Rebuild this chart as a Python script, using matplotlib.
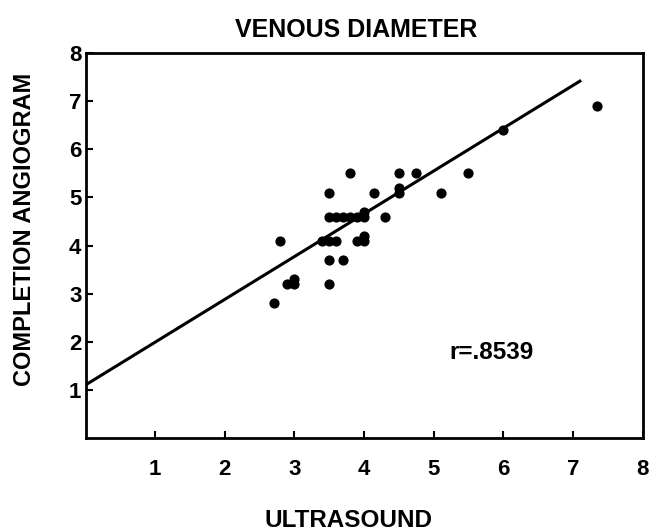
import matplotlib
matplotlib.use("Agg")
import matplotlib.pyplot as plt
import numpy as np

plt.rcParams['font.family'] = ['Liberation Sans', 'DejaVu Sans']

ultrasound = [3.8, 4.5, 4.75, 3.5, 4.15, 4.5, 4.5, 5.1,
              3.5, 3.6, 3.7, 3.8, 3.9, 4.0, 4.0, 4.3,
              3.4, 3.5, 3.6, 3.9, 4.0, 4.0, 2.8,
              3.5, 3.7, 2.9, 3.0, 3.0, 3.5, 2.7,
              5.5, 6.0, 7.35]
angiogram = [5.5, 5.5, 5.5, 5.1, 5.1, 5.1, 5.2, 5.1,
             4.6, 4.6, 4.6, 4.6, 4.6, 4.6, 4.7, 4.6,
             4.1, 4.1, 4.1, 4.1, 4.1, 4.2, 4.1,
             3.7, 3.7, 3.2, 3.2, 3.3, 3.2, 2.8,
             5.5, 6.4, 6.9]
fit_intercept = 1.1
fit_slope = 0.89
fit_x = [0.0, 7.1]
r_label = "r=.8539"
xticks = [1, 2, 3, 4, 5, 6, 7, 8]
yticks = [1, 2, 3, 4, 5, 6, 7, 8]

fig = plt.figure(figsize=(6.53, 5.32), dpi=100)
ax = fig.add_axes([0.131, 0.177, 0.853, 0.723])
ax.scatter(ultrasound, angiogram, s=40, color='black', zorder=3)
fx = np.array(fit_x)
ax.plot(fx, fit_intercept + fit_slope * fx, color='black', lw=2.2)
ax.set_xlim(0, 8)
ax.set_ylim(0, 8)
ax.set_xticks(xticks)
ax.set_yticks(yticks)
ax.tick_params(direction='in', length=5, width=1.5, labelsize=16)
ax.tick_params(axis='x', pad=15)
ax.tick_params(axis='y', pad=3)
for lab in ax.get_xticklabels() + ax.get_yticklabels():
    lab.set_fontweight('bold')
for s in ax.spines.values():
    s.set_linewidth(2)
ax.text(5.22, 1.78, r_label, fontsize=17.5, fontweight='bold', va='center', ha='left')
fig.text(0.546, 0.944, "VENOUS DIAMETER", fontsize=18, fontweight='bold', ha='center', va='center')
fig.text(0.533, 0.021, "ULTRASOUND", fontsize=17.5, fontweight='bold', ha='center', va='center')
fig.text(0.038, 0.568, "COMPLETION ANGIOGRAM", fontsize=17, fontweight='bold', ha='center', va='center', rotation=90)
fig.savefig("out.png", dpi=100)
